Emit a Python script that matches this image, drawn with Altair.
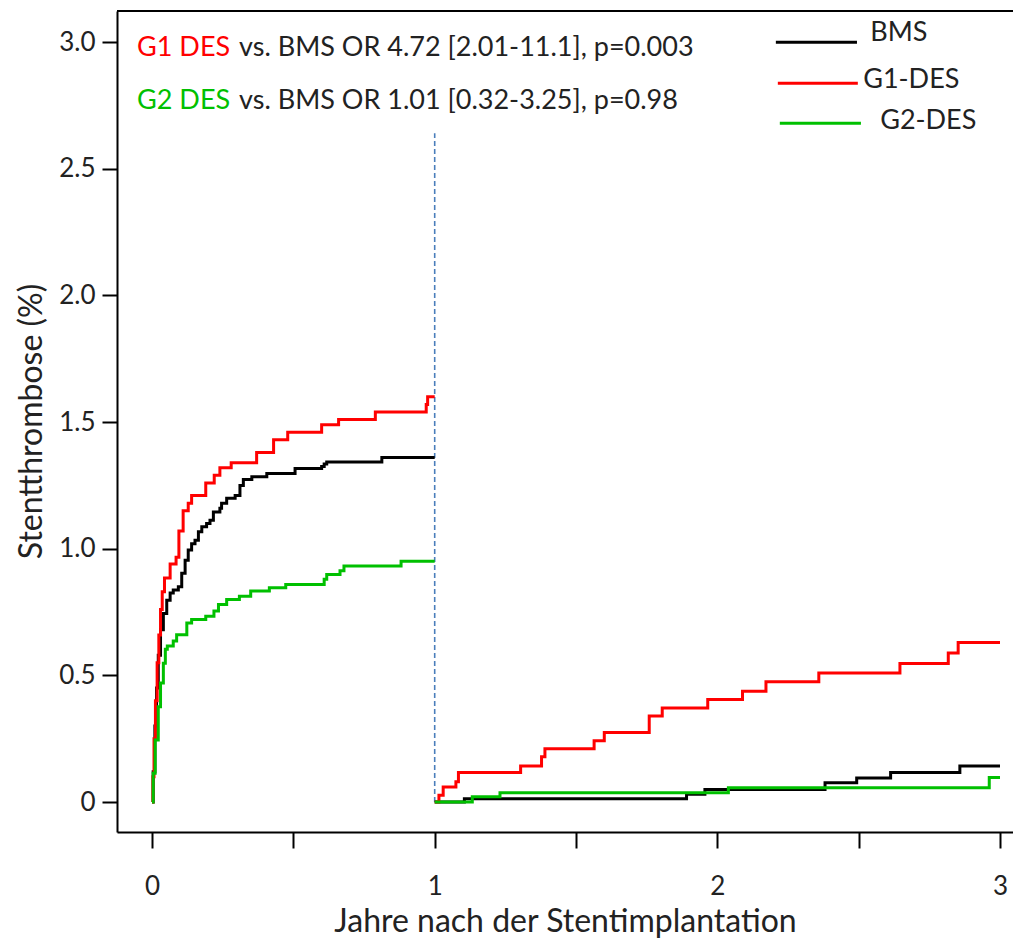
import altair as alt
import pandas as pd

# ---------------- data ----------------
series_names = ["BMS", "G1-DES", "G2-DES"]
series_colors = ["#000000", "#ff0000", "#00c000"]

# Year 0-1 (landmark 1)
bms_p1_t = [0, 0.004, 0.010, 0.016, 0.022, 0.030, 0.040, 0.052, 0.064, 0.075, 0.093, 0.105, 0.117,
            0.128, 0.140, 0.152, 0.164, 0.176, 0.193, 0.205, 0.217, 0.240, 0.246, 0.264, 0.294, 0.311,
            0.323, 0.353, 0.406, 0.506, 0.600, 0.609, 0.618, 0.813, 1.0]
bms_p1_v = [0, 0.12, 0.30, 0.45, 0.58, 0.68, 0.745, 0.797, 0.825, 0.837, 0.85, 0.903, 0.955,
            0.995, 1.02, 1.034, 1.067, 1.087, 1.10, 1.113, 1.145, 1.16, 1.18, 1.20, 1.21, 1.25,
            1.274, 1.284, 1.297, 1.317, 1.325, 1.335, 1.343, 1.36, 1.36]

g1_p1_t = [0, 0.003, 0.007, 0.012, 0.018, 0.024, 0.030, 0.036, 0.044, 0.064, 0.085, 0.095, 0.11,
           0.128, 0.14, 0.19, 0.22, 0.24, 0.28, 0.37, 0.43, 0.48, 0.60, 0.66, 0.79, 0.97, 0.975, 1.0]
g1_p1_v = [0, 0.10, 0.25, 0.40, 0.55, 0.66, 0.76, 0.83, 0.885, 0.94, 0.967, 1.07, 1.15,
           1.18, 1.21, 1.26, 1.29, 1.32, 1.34, 1.38, 1.43, 1.46, 1.49, 1.51, 1.54, 1.57, 1.60, 1.60]

g2_p1_t = [0, 0.004, 0.011, 0.022, 0.030, 0.040, 0.047, 0.054, 0.075, 0.087, 0.123, 0.140, 0.190,
           0.219, 0.235, 0.264, 0.309, 0.349, 0.415, 0.473, 0.609, 0.618, 0.665, 0.679, 0.881, 1.0]
g2_p1_v = [0, 0.114, 0.245, 0.376, 0.47, 0.548, 0.603, 0.616, 0.636, 0.661, 0.707, 0.721, 0.734,
           0.754, 0.78, 0.80, 0.813, 0.833, 0.846, 0.859, 0.88, 0.899, 0.913, 0.932, 0.951, 0.951]

# Year 1-3 (landmark 2)
bms_p2_t = [1.0, 1.105, 1.891, 1.956, 2.381, 2.493, 2.613, 2.858, 3.0]
bms_p2_v = [0, 0.013, 0.031, 0.05, 0.076, 0.095, 0.117, 0.143, 0.143]

g1_p2_t = [1.0, 1.015, 1.03, 1.075, 1.084, 1.304, 1.378, 1.39, 1.564, 1.60, 1.759, 1.805, 1.966,
           2.089, 2.172, 2.359, 2.646, 2.817, 2.852, 3.0]
g1_p2_v = [0, 0.027, 0.06, 0.08, 0.117, 0.143, 0.179, 0.211, 0.242, 0.275, 0.34, 0.372, 0.405,
           0.438, 0.475, 0.51, 0.547, 0.589, 0.63, 0.63]

g2_p2_t = [1.0, 1.133, 1.231, 2.039, 2.962, 3.0]
g2_p2_v = [0, 0.021, 0.037, 0.057, 0.097, 0.097]

landmark_year = 1.0
landmark_top = 2.64

y_ticks = [0, 0.5, 1.0, 1.5, 2.0, 2.5, 3.0]
x_ticks = [0, 0.5, 1, 1.5, 2, 2.5, 3]

ann_colored = ["G1 DES", "G2 DES"]
ann_colored_colors = ["#ff0000", "#00c000"]
ann_black = ["vs. BMS OR 4.72 [2.01-11.1], p=0.003", "vs. BMS OR 1.01 [0.32-3.25], p=0.98"]

# ---------------- build tables ----------------
def table(name, phase, t, v):
    return pd.DataFrame({"t": t, "v": v, "series": name, "phase": phase})

df = pd.concat([
    table("BMS", 1, bms_p1_t, bms_p1_v), table("BMS", 2, bms_p2_t, bms_p2_v),
    table("G1-DES", 1, g1_p1_t, g1_p1_v), table("G1-DES", 2, g1_p2_t, g1_p2_v),
    table("G2-DES", 1, g2_p1_t, g2_p1_v), table("G2-DES", 2, g2_p2_t, g2_p2_v),
], ignore_index=True)

FONT = "Lato"
FS = 26
TFS = 32
AFS = 27
W, H = 896, 821

xscale = alt.Scale(domain=[-0.124, 3.046], nice=False, zero=False)
yscale = alt.Scale(domain=[-0.118, 3.123], nice=False, zero=False)

xaxis = alt.Axis(values=x_ticks, labelExpr="datum.value % 1 == 0 ? format(datum.value, 'd') : ''",
                 grid=False, tickSize=16, tickWidth=2, domainWidth=2, tickColor="black",
                 domainColor="black", labelFont=FONT, labelFontSize=FS, labelColor="#222",
                 labelPadding=25, title="Jahre nach der Stentimplantation", titleFont=FONT,
                 titleFontSize=TFS, titleFontWeight="normal", titleColor="#222", titleY=99,
                 titleBaseline="alphabetic")
yaxis = alt.Axis(values=y_ticks, labelExpr="datum.value == 0 ? '0' : format(datum.value, '.1f')",
                 grid=False, tickSize=15, tickWidth=2, domainWidth=2, tickColor="black",
                 domainColor="black", labelFont=FONT, labelFontSize=FS, labelColor="#222",
                 labelPadding=7, title="Stentthrombose (%)", titleFont=FONT, titleFontSize=TFS,
                 titleFontWeight="normal", titleColor="#222", titleX=-86, titleY=410,
                 titleAngle=270, titleAlign="center", titleBaseline="middle")


def X(field):
    return alt.X(field, scale=xscale, axis=xaxis)


def Y(field):
    return alt.Y(field, scale=yscale, axis=yaxis)


color = alt.Color("series:N", scale=alt.Scale(domain=series_names, range=series_colors), legend=None)

layers = []
for s in series_names:
    layers.append(
        alt.Chart(df).transform_filter(alt.datum.series == s)
        .mark_line(interpolate="step-after", strokeWidth=3)
        .encode(x=X("t:Q"), y=Y("v:Q"), color=color, detail="phase:N")
    )

landmark = alt.Chart(pd.DataFrame({"t": [landmark_year], "v0": [0], "v1": [landmark_top]})).mark_rule(
    color="#4a7ebb", strokeWidth=1.6, strokeDash=[5, 3]).encode(
    x=X("t:Q"), y=Y("v0:Q"), y2="v1:Q")

top_border = alt.Chart(pd.DataFrame({"a": [0]})).mark_rule(color="black", strokeWidth=2).encode(
    x=alt.value(0), x2=alt.value(W), y=alt.value(0))

# annotation text (anchored in data units)
ann_df = pd.DataFrame({"label": ann_colored, "col": ann_colored_colors, "t": [-0.053, -0.053],
                       "v": [2.977, 2.767], "label2": ann_black})
ann1 = alt.Chart(ann_df).mark_text(align="left", baseline="middle", font=FONT, fontSize=AFS).encode(
    x=X("t:Q"), y=Y("v:Q"), text="label:N", color=alt.Color("col:N", scale=None))
ann2 = alt.Chart(ann_df).mark_text(align="left", baseline="middle", font=FONT, fontSize=AFS,
                                   color="#222", dx=102).encode(
    x=X("t:Q"), y=Y("v:Q"), text="label2:N")

# manual legend (data units)
leg_df = pd.DataFrame({"series": series_names,
                       "x0": [2.207, 2.214, 2.221], "x1": [2.494, 2.497, 2.508],
                       "yl": [3.0, 2.838, 2.68],
                       "xt": [2.541, 2.516, 2.576], "yt": [3.036, 2.85, 2.69]})
leg_lines = alt.Chart(leg_df).mark_rule(strokeWidth=3).encode(
    x=X("x0:Q"), x2="x1:Q", y=Y("yl:Q"), color=color)
leg_text = alt.Chart(leg_df).mark_text(align="left", baseline="middle", font=FONT, fontSize=AFS,
                                       color="#222").encode(
    x=X("xt:Q"), y=Y("yt:Q"), text="series:N")

chart = alt.layer(top_border, landmark, *layers, ann1, ann2, leg_lines, leg_text).properties(
    width=W, height=H,
    autosize=alt.AutoSizeParams(type="none"),
    padding={"left": 109, "top": 3, "right": 0, "bottom": 107},
).configure(background="white").configure_view(stroke=None)

chart.save("out.html", embed_options={"renderer": "svg", "actions": False})
